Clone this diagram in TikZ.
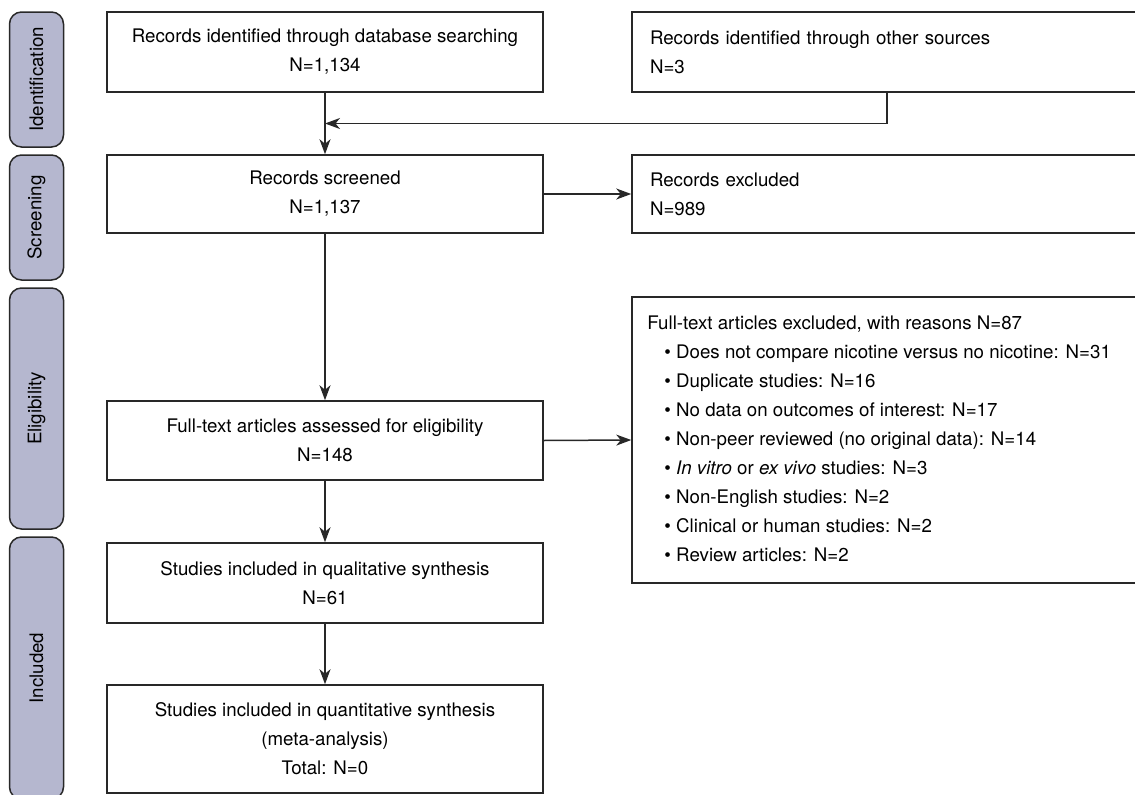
\documentclass[tikz,border=0pt]{standalone}
\usepackage{fontspec}
\setmainfont{TeX Gyre Heros}
\usetikzlibrary{arrows.meta, calc}
\definecolor{phasefill}{RGB}{181,183,207}
\definecolor{edge}{RGB}{40,40,40}

\begin{document}
\begin{tikzpicture}[x=1pt, y=-1pt,
	font=\fontsize{18.7}{29}\selectfont,
	box/.style={draw=edge, line width=1.5pt, minimum width=436pt, minimum height=80pt, align=center, inner sep=0pt},
	sidebox/.style={draw=edge, line width=1.5pt, minimum width=510pt, inner ysep=0pt, inner xsep=18pt, text width=474pt, align=left},
	phase/.style={draw=edge, fill=phasefill, line width=1.5pt, rounded corners=12pt, rotate=90, minimum height=54pt, inner sep=0pt},
	flow/.style={draw=edge, line width=1.5pt, -{Stealth[length=15pt, width=11pt, inset=4.5pt]}}]
	\useasboundingbox (0,0) rectangle (1135,795);
	\clip (0,0) rectangle (1135,795);
	% phase tabs
	\node[phase, minimum width=135pt] (ident) at (36.5,79.5) {Identification};
	\node[phase, minimum width=125pt] (screen) at (36.5,217.5) {Screening};
	\node[phase, minimum width=241pt] (elig) at (36.5,408.5) {Eligibility};
	\node[phase, minimum width=262pt] (incl) at (36.5,668) {Included};
	% main column
	\node[box] (dbsearch) at (325,52) {Records identified through database searching\\N=1,134};
	\node[box, minimum height=78pt] (screened) at (325,194) {Records screened\\N=1,137};
	\node[box, minimum height=79pt] (fulltext) at (325,440.5) {Full-text articles assessed for eligibility\\N=148};
	\node[box] (qual) at (325,583) {Studies included in qualitative synthesis\\N=61};
	\node[box, minimum height=108pt] (quant) at (325,739) {Studies included in quantitative synthesis\\(meta-analysis)\\Total: N=0};
	% side column
	\node[sidebox, minimum height=80pt] (other) at (887,52) {Records identified through other sources\\N=3};
	\node[sidebox, minimum height=78pt] (excluded) at (887,194) {Records excluded\\N=989};
	\node[sidebox, minimum height=286pt] (reasons) at (887,440) {};
	\node[anchor=north west, align=left, inner sep=0pt] (reasonlist) at ($(reasons.north west)+(16,19)$) {Full-text articles excluded, with reasons N=87\\
		\hspace*{17pt}\textbullet\ Does not compare nicotine versus no nicotine: N=31\\
		\hspace*{17pt}\textbullet\ Duplicate studies: N=16\\
		\hspace*{17pt}\textbullet\ No data on outcomes of interest: N=17\\
		\hspace*{17pt}\textbullet\ Non-peer reviewed (no original data): N=14\\
		\hspace*{17pt}\textbullet\ \textit{In vitro} or \textit{ex vivo} studies: N=3\\
		\hspace*{17pt}\textbullet\ Non-English studies: N=2\\
		\hspace*{17pt}\textbullet\ Clinical or human studies: N=2\\
		\hspace*{17pt}\textbullet\ Review articles: N=2};
	% connectors
	\coordinate (join) at ($(dbsearch.south)!0.5!(screened.north)$);
	\draw[flow] (other.south) |- (join);
	\draw[flow] (dbsearch.south) -- (screened.north);
	\draw[flow] (screened.east) -- (excluded.west);
	\draw[flow] (screened.south) -- (fulltext.north);
	\draw[flow] (fulltext.east) -- (reasons.west);
	\draw[flow] (fulltext.south) -- (qual.north);
	\draw[flow] (qual.south) -- (quant.north);
\end{tikzpicture}
\end{document}
